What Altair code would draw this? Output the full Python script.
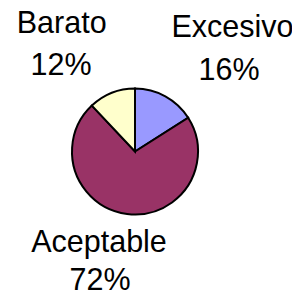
import altair as alt
import pandas as pd

categories = ["Excesivo", "Aceptable", "Barato"]
percent = [16, 72, 12]
colors = ["#9999FF", "#993366", "#FFFFCC"]

df = pd.DataFrame({"cat": categories, "pct": percent, "order": [0, 1, 2]})

pie = alt.Chart(df).mark_arc(outerRadius=63, stroke="black", strokeWidth=2).encode(
    theta=alt.Theta("pct:Q", stack=True),
    order=alt.Order("order:Q"),
    color=alt.Color("cat:N", scale=alt.Scale(domain=categories, range=colors), legend=None),
    x=alt.value(127),
    y=alt.value(143.5),
)

# label placement (name line, percent line) in chart pixels
pos = {
    "Excesivo": ((224.5, 28.7), (221, 72)),
    "Aceptable": ((91, 243.7), (92, 282)),
    "Barato": ((53.7, 25.3), (53, 67)),
}

layers = [pie]
for c, p in zip(categories, percent):
    (x1, y1), (x2, y2) = pos[c]
    for txt, x, y in ((c, x1, y1), (f"{p}%", x2, y2)):
        t = alt.Chart(pd.DataFrame({"t": [txt]})).mark_text(
            font="Liberation Sans", fontSize=30.5, color="black",
            align="center", baseline="alphabetic"
        ).encode(text="t:N", x=alt.value(x), y=alt.value(y))
        layers.append(t)

chart = alt.layer(*layers).properties(
    width=284, height=282, padding=0, autosize="none"
).configure_view(stroke=None)

chart.save("out.html", embed_options={"renderer": "svg", "actions": False})
